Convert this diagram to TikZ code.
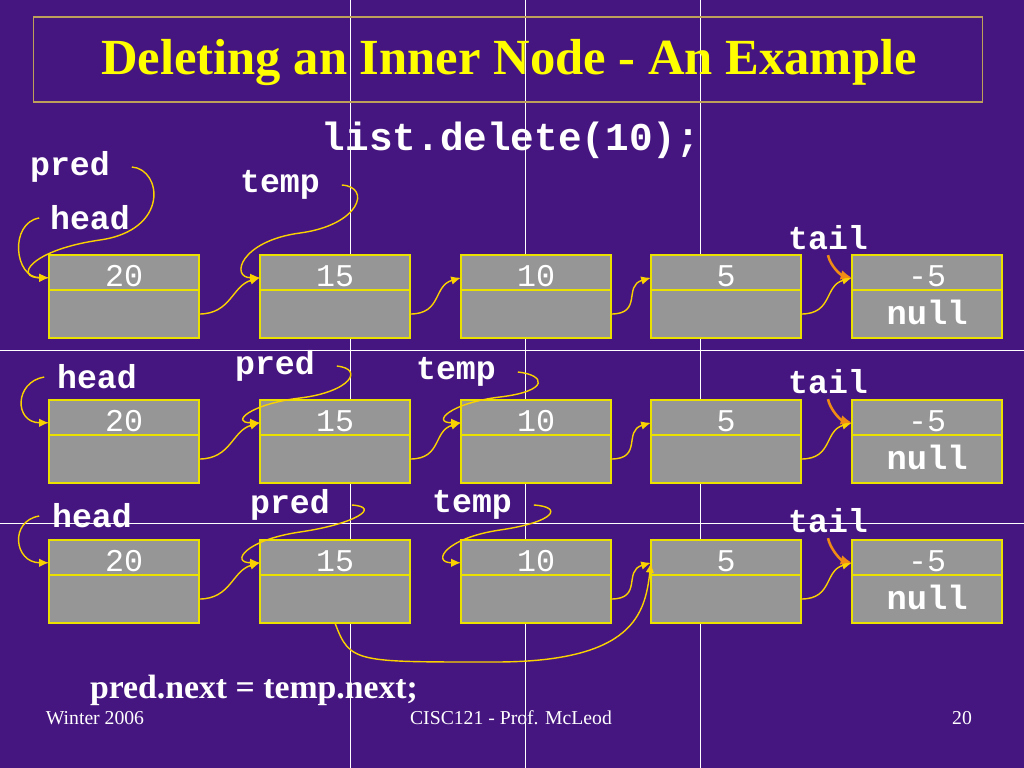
\documentclass[tikz,border=0pt]{standalone}
\usepackage{fontspec}
\setmainfont{Liberation Serif}
\setmonofont{Liberation Mono}
\usepackage{tikz}
\usetikzlibrary{arrows.meta, positioning, calc}
\definecolor{slidepurple}{RGB}{70,22,128}
\definecolor{boxgray}{RGB}{150,150,150}
\definecolor{boxyellow}{RGB}{235,225,0}
\definecolor{linkyellow}{RGB}{250,210,0}
\definecolor{tailorange}{RGB}{240,140,20}
\definecolor{titleyellow}{RGB}{255,255,0}
\definecolor{framegold}{RGB}{190,160,90}
\tikzset{
  valbox/.style={rectangle, draw=boxyellow, fill=boxgray, line width=1pt,
    minimum width=3.75cm, minimum height=0.875cm, inner sep=0pt, outer sep=0pt,
    text=white, font=\ttfamily\fontsize{22.5}{24}\selectfont, text height=20pt},
  nextbox/.style={valbox, minimum height=1.2cm,
    font=\ttfamily\bfseries\fontsize{24}{26}\selectfont, text height=15pt},
  ptrlabel/.style={text=white, font=\ttfamily\bfseries\fontsize{23.6}{26}\selectfont},
  link/.style={-{Latex[length=7pt, width=6pt]}, line width=1pt, color=linkyellow},
  tailarrow/.style={-{Latex[length=8pt, width=7pt]}, line width=1.8pt, color=tailorange},
  seam/.style={white, line width=0.6pt},
  slidetext/.style={text=white, font=\fontsize{14}{16}\selectfont},
}
\begin{document}
\begin{tikzpicture}[x=0.025cm, y=-0.025cm, node distance=0pt]
  % background and tile seams
  \fill[slidepurple] (0,0) rectangle (1024,768);
  \useasboundingbox (0,0) rectangle (1024,768);
  \foreach \sx in {350,525,700} \draw[seam] (\sx,0) -- (\sx,768);
  \foreach \sy in {350,523} \draw[seam] (0,\sy) -- (1024,\sy);

  % title
  \node[draw=framegold, line width=0.8pt, inner sep=0pt,
        minimum width=23.7cm, minimum height=2.125cm] (frame) at (508,59.5) {};
  \node[text=titleyellow, font=\bfseries\fontsize{36}{40}\selectfont]
    (title) at (509,63) {Deleting an Inner Node - An Example};
  \node[ptrlabel, font=\ttfamily\bfseries\fontsize{28}{30}\selectfont]
    (call) at (511,140) {list.delete(10);};

  % the three lists
  \foreach \r/\y in {1/255,2/400,3/540}{
    \foreach \i/\x/\v in {1/49/20,2/260/15,3/461/10,4/651/5,5/852/-5}{
      \node[valbox, anchor=north west] (v\r\i) at (\x,\y) {\v};
      \node[nextbox, below=of v\r\i] (n\r\i) {\ifnum\i=5 null\fi};
      \coordinate (t\r\i) at ($(v\r\i.west)!0.3!(v\r\i.south west)$);
    }
  }

  % next links
  \foreach \r in {1,2}
    \foreach \i/\j in {1/2,2/3,3/4,4/5}
      \draw[link] (n\r\i.east) .. controls +(32,0) and +(-28,8) .. (t\r\j);
  \foreach \i/\j in {1/2,3/4,4/5}
    \draw[link] (n3\i.east) .. controls +(32,0) and +(-28,8) .. (t3\j);
  \draw[link] (n32.south) .. controls +(15,40) and +(-140,0) .. (495,662)
    .. controls +(140,0) and +(-6,50) .. (t34);

  % pointers, row 1
  \node[ptrlabel] (pred1) at (70,167) {pred};
  \node[ptrlabel] (head1) at (90,218) {head};
  \node[ptrlabel] (temp1) at (280,185) {temp};
  \node[ptrlabel] (tail1) at (828,238) {tail};
  \draw[link] ($(head1.west)+(-6,0)$) .. controls +(-30,5) and +(-35,0) .. (t11);
  \draw[link] ($(pred1.east)+(17,0)$) .. controls +(30,2) and +(70,-10) .. (100,240)
    .. controls +(-70,10) and +(-35,0) .. (t11);
  \draw[link] ($(temp1.east)+(17,0)$) .. controls +(30,2) and +(60,-8) .. (300,233)
    .. controls +(-60,8) and +(-30,0) .. (t12);
  \draw[tailarrow] (tail1.south) .. controls +(2,10) and +(-12,-3) .. (t15);

  % pointers, row 2
  \node[ptrlabel] (head2) at (97,377) {head};
  \node[ptrlabel] (pred2) at (275,366) {pred};
  \node[ptrlabel] (temp2) at (456,372) {temp};
  \node[ptrlabel] (tail2) at (828,382) {tail};
  \draw[link] ($(head2.west)+(-8,0)$) .. controls +(-30,5) and +(-35,0) .. (t21);
  \draw[link] ($(pred2.east)+(17,0)$) .. controls +(28,3) and +(50,-6) .. (300,398)
    .. controls +(-50,6) and +(-30,0) .. (t22);
  \draw[link] ($(temp2.east)+(17,0)$) .. controls +(28,3) and +(50,-6) .. (500,397)
    .. controls +(-50,6) and +(-30,0) .. (t23);
  \draw[tailarrow] (tail2.south) .. controls +(2,10) and +(-12,-3) .. (t25);

  % pointers, row 3
  \node[ptrlabel] (head3) at (92,516) {head};
  \node[ptrlabel] (pred3) at (290,505) {pred};
  \node[ptrlabel] (temp3) at (472,505) {temp};
  \node[ptrlabel] (tail3) at (828,521) {tail};
  \draw[link] ($(head3.west)+(-8,0)$) .. controls +(-30,5) and +(-35,0) .. (t31);
  \draw[link] ($(pred3.east)+(17,0)$) .. controls +(30,2) and +(55,-8) .. (300,532)
    .. controls +(-55,8) and +(-30,0) .. (t32);
  \draw[link] ($(temp3.east)+(17,0)$) .. controls +(30,2) and +(55,-8) .. (500,530)
    .. controls +(-55,8) and +(-30,0) .. (t33);
  \draw[tailarrow] (tail3.south) .. controls +(2,10) and +(-12,-3) .. (t35);

  % code line and footer
  \node[text=white, font=\bfseries\fontsize{24}{26}\selectfont]
    (code) at (254,690) {pred.next = temp.next;};
  \node[slidetext] (season) at (95,718) {Winter 2006};
  \node[slidetext] (course) at (511,718) {CISC121 - Prof. McLeod};
  \node[slidetext] (page) at (962,718) {20};
\end{tikzpicture}
\end{document}
